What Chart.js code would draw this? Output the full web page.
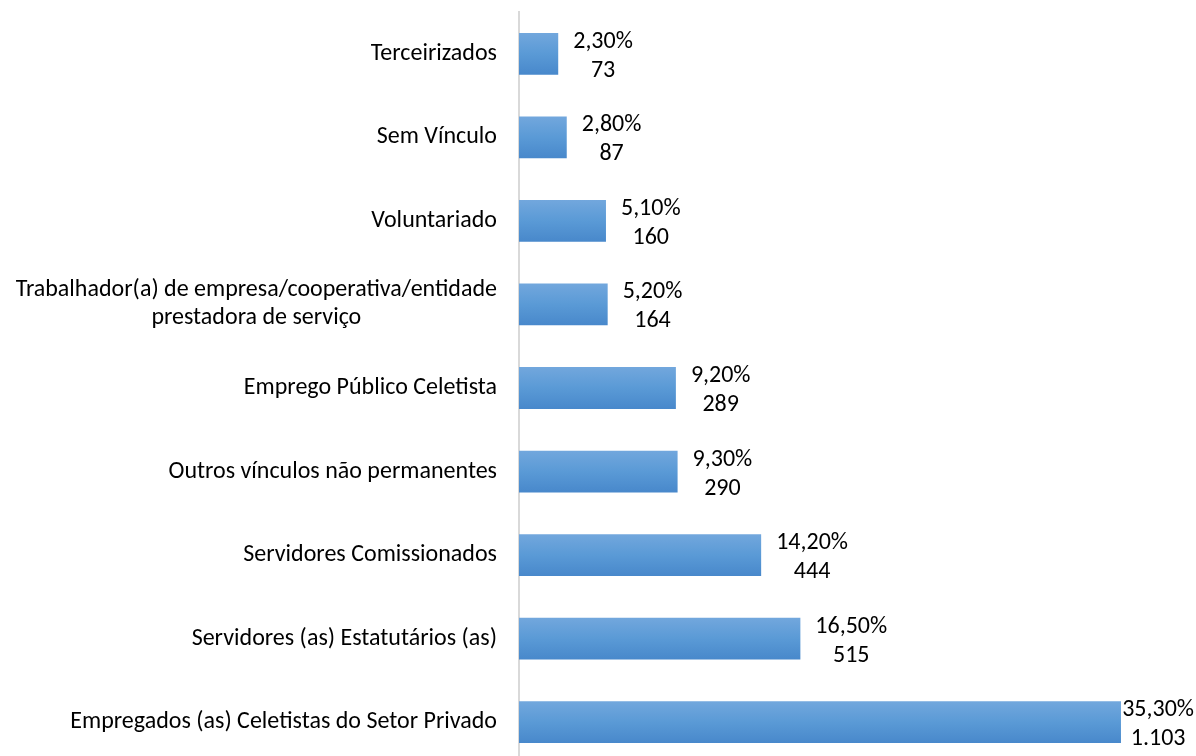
<!DOCTYPE html>
<html>
<head>
<meta charset="utf-8">
<script src="https://cdn.jsdelivr.net/npm/chart.js@4.4.1/dist/chart.umd.min.js"></script>
<style>
  html, body { margin: 0; padding: 0; background: #fff; overflow: hidden; width: 1196px; height: 756px; }
  #wrap { width: 1196px; height: 764px; }
</style>
</head>
<body>
<div id="wrap"><canvas id="c" width="1196" height="764"></canvas></div>
<script>
const categories = [
  ['Terceirizados'],
  ['Sem Vínculo'],
  ['Voluntariado'],
  ['Trabalhador(a) de empresa/cooperativa/entidade', 'prestadora de serviço'],
  ['Emprego Público Celetista'],
  ['Outros vínculos não permanentes'],
  ['Servidores Comissionados'],
  ['Servidores (as) Estatutários (as)'],
  ['Empregados (as) Celetistas do Setor Privado']
];
const percentages = [2.3, 2.8, 5.1, 5.2, 9.2, 9.3, 14.2, 16.5, 35.3];
const counts = ['73', '87', '160', '164', '289', '290', '444', '515', '1.103'];

const FONT = '"Carlito", "Calibri", "Lato", sans-serif';
const FS = 24;

function barGradient(ctx) {
  const chart = ctx.chart;
  const ys = chart.scales && chart.scales.y;
  if (!ys || ctx.dataIndex === undefined) return '#5b9bd5';
  const yc = ys.getPixelForValue(ctx.dataIndex);
  const half = (ys.height / categories.length) * 0.5 / 2;
  if (!isFinite(yc) || !isFinite(half) || half <= 0) return '#5b9bd5';
  const g = chart.ctx.createLinearGradient(0, yc - half, 0, yc + half);
  g.addColorStop(0, '#72a7dd');
  g.addColorStop(0.5, '#5a9ad6');
  g.addColorStop(1, '#4888cb');
  return g;
}

const labelPlugin = {
  id: 'labels',
  afterDraw(chart) {
    const c = chart.ctx;
    const ys = chart.scales.y;
    const meta = chart.getDatasetMeta(0);
    c.save();
    c.font = FS + 'px ' + FONT;
    c.fillStyle = '#000';
    c.textBaseline = 'middle';
    const rightX = ys.right - 22;
    categories.forEach((lines, i) => {
      const yc = ys.getPixelForValue(i);
      const w = Math.max(...lines.map(l => c.measureText(l).width));
      const lh = 28;
      const y0 = yc - (lines.length - 1) * lh / 2;
      c.textAlign = 'center';
      lines.forEach((l, k) => {
        c.fillText(l, rightX - w / 2, y0 + k * lh);
      });
    });
    meta.data.forEach((bar, i) => {
      const l1 = percentages[i].toFixed(2).replace('.', ',') + '%';
      const l2 = counts[i];
      const w = Math.max(c.measureText(l1).width, c.measureText(l2).width);
      let left = bar.x + 15;
      if (left + w > chart.width - 2) left = chart.width - 2 - w;
      const cx = left + w / 2;
      c.textAlign = 'center';
      c.textBaseline = 'alphabetic';
      c.fillText(l1, cx, bar.y - 6);
      c.fillText(l2, cx, bar.y + 23);
    });
    c.restore();
  }
};

new Chart(document.getElementById('c'), {
  type: 'bar',
  data: {
    labels: categories.map(l => l.join(' ')),
    datasets: [{
      data: percentages,
      backgroundColor: barGradient,
      borderWidth: 0,
      categoryPercentage: 1,
      barPercentage: 0.5
    }]
  },
  options: {
    indexAxis: 'y',
    responsive: false,
    animation: false,
    events: [],
    layout: { padding: { top: 12, bottom: 0, left: 0, right: 0 } },
    plugins: { legend: { display: false }, tooltip: { enabled: false } },
    scales: {
      x: { display: false, min: 0, max: 39.7 },
      y: {
        display: true,
        grid: { display: false, drawTicks: false },
        border: { display: true, color: '#d9d9d9', width: 2 },
        ticks: { display: false },
        afterFit(s) { s.width = 519; }
      }
    }
  },
  plugins: [labelPlugin]
});
</script>
</body>
</html>
